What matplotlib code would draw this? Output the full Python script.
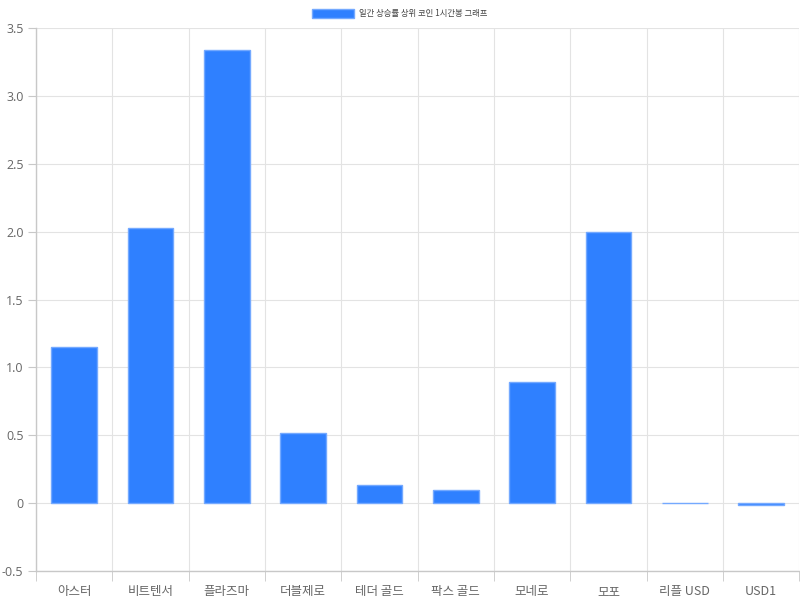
import matplotlib
matplotlib.use("Agg")
import matplotlib.pyplot as plt
import numpy as np
from matplotlib.ticker import FixedLocator, FuncFormatter

plt.rcParams["font.family"] = ["Noto Sans CJK KR", "DejaVu Sans"]
plt.rcParams["axes.unicode_minus"] = False

coins = ["아스터", "비트텐서", "플라즈마", "더블제로", "테더 골드",
         "팍스 골드", "모네로", "모포", "리플 USD", "USD1"]
changes = [1.15, 2.03, 3.34, 0.52, 0.135, 0.095, 0.89, 2.0, 0.004, -0.012]
series_label = "일간 상승률 상위 코인 1시간봉 그래프"

fill = "#2f80ff"
edge = "#74a9ff"
grid = "#e3e3e3"
axis_col = "#c8c8c8"
text_col = "#666666"

fig = plt.figure(figsize=(8, 6), dpi=100)
ax = fig.add_axes([0.045, 0.0483, 0.954, 0.905])

x = np.arange(len(coins))
ax.bar(x, changes, width=0.6, color=fill, edgecolor=edge, linewidth=1.0,
       label=series_label, zorder=3)

ax.set_xlim(-0.5, len(coins) - 0.5)
ax.set_ylim(-0.5, 3.5)
ax.set_yticks(np.arange(-0.5, 3.51, 0.5))
ax.yaxis.set_major_formatter(FuncFormatter(lambda v, _: "0" if abs(v) < 1e-9 else f"{v:.1f}"))

ax.set_xticks(x)
ax.set_xticklabels(coins)
ax.xaxis.set_minor_locator(FixedLocator(np.arange(-0.5, len(coins), 1.0)))
ax.tick_params(axis="x", which="major", length=0, pad=10, labelsize=9, labelcolor=text_col)
ax.tick_params(axis="x", which="minor", length=7, color=axis_col)
ax.tick_params(axis="y", length=6, color=axis_col, labelsize=9, labelcolor=text_col, pad=3)
for lbl in ax.get_yticklabels():
    lbl.set_family(["Open Sans", "DejaVu Sans"])

ax.grid(False)
ax.xaxis.grid(True, which="minor", color=grid, linewidth=0.8, zorder=0)
ax.yaxis.grid(True, which="major", color=grid, linewidth=0.8, zorder=0)

for side in ("top", "right"):
    ax.spines[side].set_visible(False)
for side in ("left", "bottom"):
    ax.spines[side].set_color(axis_col)
    ax.spines[side].set_linewidth(1.0)

fig.legend(loc="upper center", bbox_to_anchor=(0.5, 0.997), frameon=False,
           fontsize=6, handlelength=5.0, handleheight=1.2, handletextpad=0.6,
           labelcolor="#444444")

fig.savefig("out.png", dpi=100)
